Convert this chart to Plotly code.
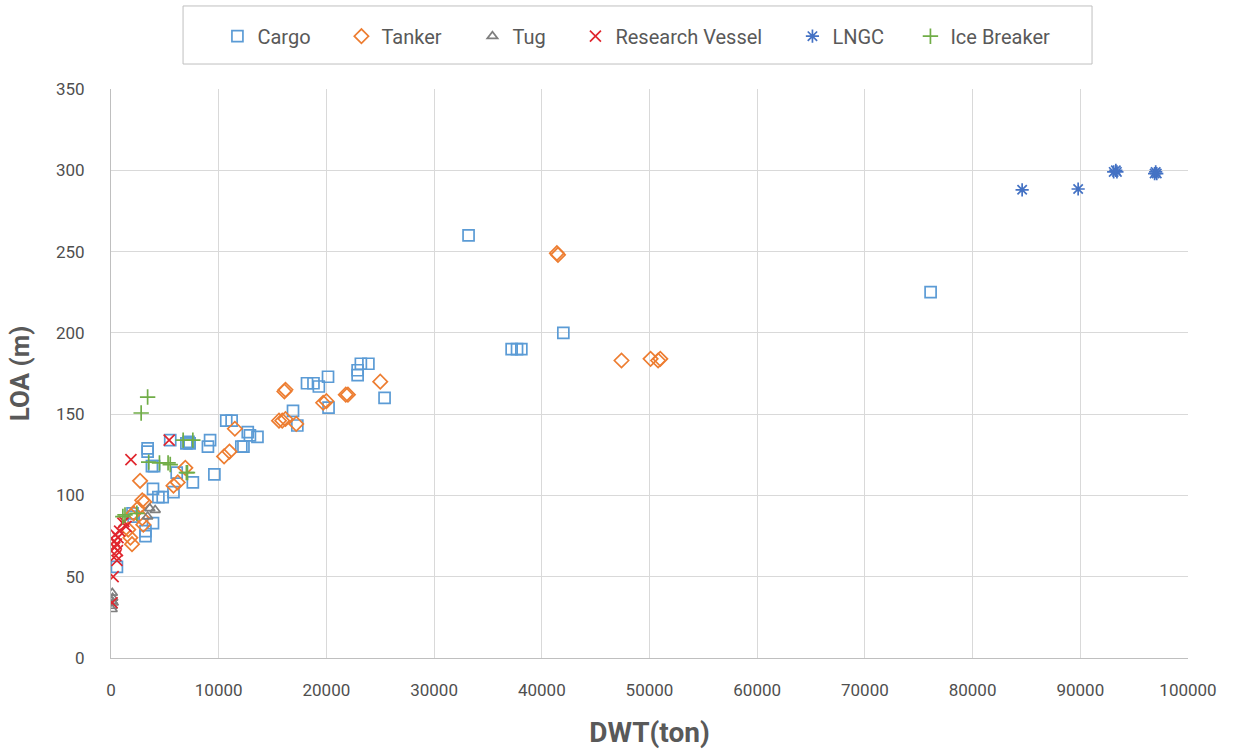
import plotly.graph_objects as go

# Ship particulars: deadweight (ton) vs. length overall (m), grouped by ship type
cargo_dwt = [33200, 37200, 37700, 38100, 42000, 76100, 25400, 20200, 20150, 23200, 23900, 22900,
             22900, 18200, 18800, 19300, 16900, 17300, 10700, 11200, 9200, 9000, 12700, 12900,
             12100, 12300, 13600, 9600, 7600, 7000, 7300, 5500, 3400, 3400, 3800, 4000, 3900,
             4400, 4800, 5800, 6100, 2000, 3900, 3200, 3200, 550, 7200, 2100]
cargo_loa = [260, 190, 190, 190, 200, 225, 160, 154, 173, 181, 181, 174,
             177, 169, 169, 167, 152, 143, 146, 146, 134, 130, 139, 137,
             130, 130, 136, 113, 108, 132, 132, 134, 129, 127, 118, 118, 104,
             99, 99, 102, 114, 89, 83, 75, 78, 56, 133, 87]

tanker_dwt = [41400, 41500, 47400, 50100, 51000, 50800, 25000, 16100, 16200, 22000, 21800,
              19700, 20000, 15600, 15900, 16200, 17200, 11500, 11000, 10500, 6900, 2700,
              2900, 3100, 2100, 2900, 1600, 1800, 1950, 5800, 6200, 3000, 2500]
tanker_loa = [249, 248, 183, 184, 184, 183, 170, 164, 165, 162, 162,
              157, 158, 146, 146, 147, 144, 141, 127, 124, 117, 109,
              97, 96, 89, 86, 79, 74, 70, 106, 108, 82, 92]

tug_dwt = [3600, 4100, 3400, 100, 100, 150, 120, 90, 200]
tug_loa = [92, 91, 87, 32, 30, 37, 40, 35, 34]

research_dwt = [1850, 5400, 1200, 1400, 800, 650, 400, 300, 500, 600, 450, 550, 350, 200, 100, 1100]
research_loa = [122, 134, 84, 81, 78, 74, 76, 72, 70, 66, 63, 60, 68, 50, 34, 83]

lngc_dwt = [84600, 89800, 93100, 93400, 93300, 96900, 97100, 97000]
lngc_loa = [288, 288.5, 299, 299, 300, 298, 298, 299]

ice_dwt = [3400, 2800, 3500, 4500, 5300, 6700, 7600, 5500, 7100, 1300, 2400, 1100, 7000]
ice_loa = [160.5, 150.7, 120.5, 120, 120, 134, 134, 119, 114, 88, 89, 87, 114]

# name, x, y, symbol, colour, marker size, legend entry width
series = [
    ("Cargo", cargo_dwt, cargo_loa, "square-open", "#5B9BD5", 11, 79),
    ("Tanker", tanker_dwt, tanker_loa, "diamond-open", "#ED7D31", 11, 86),
    ("Tug", tug_dwt, tug_loa, "triangle-up-open", "#7F7F7F", 9, 58),
    ("Research Vessel", research_dwt, research_loa, "x-thin-open", "#E0262E", 11, 172),
    ("LNGC", lngc_dwt, lngc_loa, "asterisk-open", "#4472C4", 11, 73),
    ("Ice Breaker", ice_dwt, ice_loa, "cross-thin-open", "#70AD47", 11, 110),
]

fig = go.Figure()
for name, xs, ys, sym, col, sz, lw in series:
    fig.add_trace(go.Scatter(
        x=xs, y=ys, mode="markers", name=name, legendwidth=lw,
        marker=dict(symbol=sym, size=sz, color=col, line=dict(color=col, width=1.7)),
    ))

font_family = "Roboto, Liberation Sans, Arial"
grid = "#D9D9D9"

# frame around the legend
fig.add_shape(type="rect", xref="paper", yref="paper",
              x0=0.0669, x1=0.9109, y0=1.0439, y1=1.1459,
              line=dict(color="#BFBFBF", width=1), fillcolor="white", layer="below")

fig.update_layout(
    width=1234, height=754,
    margin=dict(l=111, r=46, t=89, b=96, autoexpand=False),
    paper_bgcolor="white", plot_bgcolor="white",
    font=dict(family=font_family, color="#595959", size=17),
    showlegend=True,
    legend=dict(
        orientation="h", xref="container", yref="container",
        x=0.5198, xanchor="center", y=0.952, yanchor="middle",
        borderwidth=0, bgcolor="rgba(0,0,0,0)",
        font=dict(size=20, color="#595959", family=font_family),
        itemwidth=30,
    ),
    xaxis=dict(
        range=[0, 100000], dtick=10000, tick0=0, tickformat="d",
        showgrid=True, gridcolor=grid, gridwidth=1,
        showline=True, linecolor="#BFBFBF", linewidth=1,
        zeroline=False, ticks="", ticklabelstandoff=17,
        tickfont=dict(size=17, color="#4F4F4F"),
        title=dict(text="<b>DWT(ton)</b>", font=dict(size=28, color="#595959"), standoff=22),
    ),
    yaxis=dict(
        range=[0, 350], dtick=50, tick0=0,
        showgrid=True, gridcolor=grid, gridwidth=1,
        showline=True, linecolor="#BFBFBF", linewidth=1,
        zeroline=False, ticks="", ticklabelstandoff=22,
        tickfont=dict(size=17, color="#4F4F4F"),
        title=dict(text="<b>LOA (m)</b>", font=dict(size=26, color="#595959"), standoff=18),
    ),
)

fig.write_html("out.html")
